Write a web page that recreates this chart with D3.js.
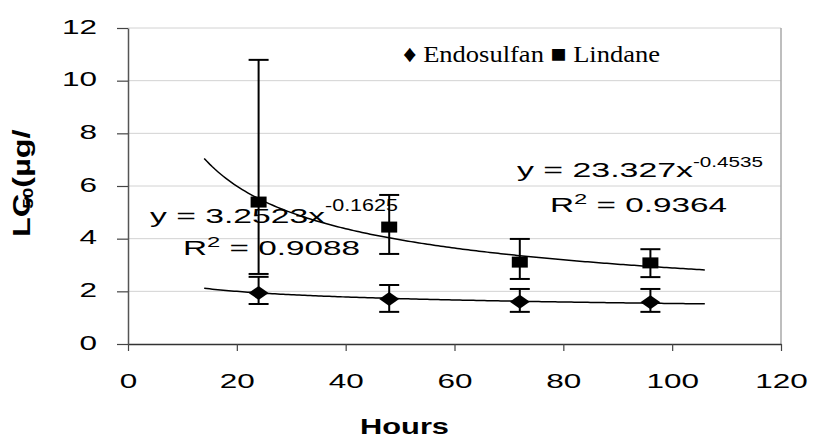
<!DOCTYPE html>
<html><head><meta charset="utf-8">
<script src="https://cdn.jsdelivr.net/npm/d3@7"></script>
<style>body{margin:0;background:#fff}svg{display:block}</style>
</head><body>
<svg id="c" width="814" height="439"></svg>
<script>
// ---- data ----
const hours = [24, 48, 72, 96];
const endosulfan = [1.94, 1.71, 1.60, 1.59];
const endosulfanUpper = [2.55, 2.24, 2.09, 2.09];
const endosulfanLower = [1.52, 1.22, 1.22, 1.22];
const lindane = [5.39, 4.44, 3.11, 3.08];
const lindaneUpper = [10.79, 5.66, 3.99, 3.60];
const lindaneLower = [2.66, 3.42, 2.47, 2.54];
const xTicks = [0, 20, 40, 60, 80, 100, 120];
const yTicks = [0, 2, 4, 6, 8, 10, 12];
// power trendlines y = a * x^b (as printed on the chart), forecast 10 h each way
const endoTrend = {a: 3.2523, b: -0.1625, from: 14, to: 106};
const lindTrend = {a: 23.327, b: -0.4535, from: 14, to: 106};

const svg = d3.select('#c');
const x = d3.scaleLinear().domain([0, 120]).range([128, 781]);
const y = d3.scaleLinear().domain([0, 12]).range([344, 28]);

// gridlines
svg.append('g').selectAll('line').data(yTicks.filter(d => d > 0)).join('line')
  .attr('x1', x(0)).attr('x2', x(120)).attr('y1', d => y(d)).attr('y2', d => y(d))
  .attr('stroke', '#d2d2d2').attr('stroke-width', 1);
// right border
svg.append('line').attr('x1', x(120)).attr('x2', x(120)).attr('y1', y(12)).attr('y2', y(0))
  .attr('stroke', '#a8a8a8').attr('stroke-width', 1.5);

// axes
const gx = svg.append('g').attr('transform', `translate(0,${y(0)})`)
  .call(d3.axisBottom(x).tickValues(xTicks).tickSize(7).tickSizeOuter(0));
gx.select('.domain').attr('stroke', '#333').attr('stroke-width', 1.5);
gx.selectAll('.tick line').attr('stroke', '#444').attr('stroke-width', 1.2);
gx.selectAll('.tick text').attr('y', 44).attr('dy', 0)
  .attr('font-family', 'Liberation Sans, Arial, sans-serif').attr('font-size', 21)
  .attr('fill', '#000').attr('transform', 'scale(1.5,1)');

const gy = svg.append('g').attr('transform', `translate(${x(0)},0)`)
  .call(d3.axisLeft(y).tickValues(yTicks).tickSize(11).tickSizeOuter(0));
gy.select('.domain').attr('stroke', '#555').attr('stroke-width', 1.5);
gy.selectAll('.tick line').attr('stroke', '#444').attr('stroke-width', 1.2);
gy.selectAll('.tick text').attr('x', -31 / 1.5).attr('dy', 5)
  .attr('font-family', 'Liberation Sans, Arial, sans-serif').attr('font-size', 21)
  .attr('fill', '#000').attr('transform', 'scale(1.5,1)');

// trendlines
function trendPts(t) {
  const pts = [];
  for (let h = t.from; h <= t.to + 1e-9; h += 0.5) pts.push([h, t.a * Math.pow(h, t.b)]);
  return pts;
}
const line = d3.line().x(d => x(d[0])).y(d => y(d[1]));
[lindTrend, endoTrend].forEach(t => {
  svg.append('path').attr('d', line(trendPts(t))).attr('fill', 'none')
    .attr('stroke', '#000').attr('stroke-width', 1.5);
});

// error bars
function errBars(vals, up, lo) {
  const g = svg.append('g').attr('stroke', '#000').attr('stroke-width', 2);
  hours.forEach((h, i) => {
    g.append('line').attr('x1', x(h)).attr('x2', x(h)).attr('y1', y(up[i])).attr('y2', y(lo[i]));
    [up[i], lo[i]].forEach(v => g.append('line').attr('x1', x(h) - 10).attr('x2', x(h) + 10)
      .attr('y1', y(v)).attr('y2', y(v)));
  });
}
errBars(lindane, lindaneUpper, lindaneLower);
errBars(endosulfan, endosulfanUpper, endosulfanLower);

// markers
svg.append('g').selectAll('rect').data(hours).join('rect')
  .attr('x', d => x(d) - 8).attr('y', (d, i) => y(lindane[i]) - 5.5)
  .attr('width', 16).attr('height', 11).attr('fill', '#000');
svg.append('g').selectAll('path').data(hours).join('path')
  .attr('d', (d, i) => {
    const cx = x(d), cy = y(endosulfan[i]);
    return `M${cx - 10},${cy}L${cx},${cy - 7}L${cx + 10},${cy}L${cx},${cy + 7}Z`;
  }).attr('fill', '#000');

// text helpers
const SANS = 'Liberation Sans, Arial, sans-serif';
function txt(str, xp, yp, size, len, opts = {}) {
  const t = svg.append('text').attr('x', xp).attr('y', yp)
    .attr('font-family', opts.family || SANS).attr('font-size', size)
    .attr('font-weight', opts.weight || 'normal').attr('fill', '#000').text(str);
  if (len) t.attr('textLength', len).attr('lengthAdjust', 'spacingAndGlyphs');
  return t;
}

// equations
txt('y = 3.2523x', 150, 223, 21, 175);
txt('-0.1625', 325, 211, 17, 73);
function rsq(val, xp, yp) {
  const t = svg.append('text').attr('x', xp).attr('y', yp).attr('font-family', SANS)
    .attr('font-size', 21).attr('fill', '#000')
    .attr('textLength', 177).attr('lengthAdjust', 'spacingAndGlyphs');
  t.append('tspan').text('R');
  t.append('tspan').attr('font-size', 15).attr('dy', -8).text('2');
  t.append('tspan').attr('dy', 8).text(' = ' + val);
}
rsq('0.9088', 183, 255);
txt('y = 23.327x', 517, 177, 21, 176);
txt('-0.4535', 693, 167, 14, 70);
rsq('0.9364', 550, 212);

// legend
txt('\u2666 Endosulfan \u25A0 Lindane', 403, 62, 24, 257, {family: 'Liberation Serif, Times New Roman, serif'});

// axis titles
txt('Hours', 360, 434, 22, 89, {weight: 'bold'});
const yl = svg.append('text').attr('transform', 'translate(30,237) rotate(-90) scale(1.35,1)')
  .attr('font-family', SANS).attr('font-weight', 'bold').attr('font-size', 24).attr('fill', '#000');
yl.append('tspan').text('LC');
yl.append('tspan').attr('font-size', 14).attr('dx', -11).attr('dy', 3).text('50');
yl.append('tspan').attr('dy', -3).text('(µg/');
</script>
</body></html>
